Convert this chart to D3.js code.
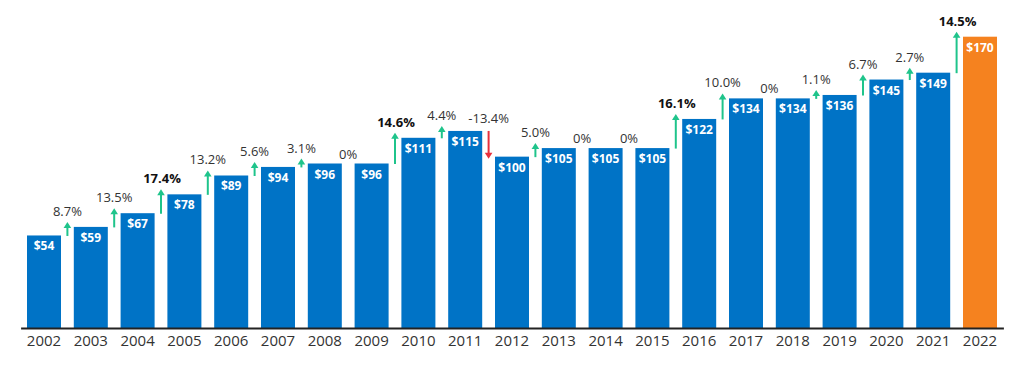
<!DOCTYPE html>
<html>
<head>
<meta charset="utf-8">
<script src="https://cdn.jsdelivr.net/npm/d3@7"></script>
<style>
  html, body { margin: 0; padding: 0; background: #fff; }
  svg { display: block; font-family: "Open Sans", sans-serif; }
</style>
</head>
<body>
<svg id="chart" width="1024" height="367"></svg>
<script>
const years = ["2002","2003","2004","2005","2006","2007","2008","2009","2010","2011","2012","2013","2014","2015","2016","2017","2018","2019","2020","2021","2022"];
const values = [54,59,67,78,89,94,96,96,111,115,100,105,105,105,122,134,134,136,145,149,170];
const changes = [null,8.7,13.5,17.4,13.2,5.6,3.1,0,14.6,4.4,-13.4,5.0,0,0,16.1,10.0,0,1.1,6.7,2.7,14.5];
const changeLabels = ["","8.7%","13.5%","17.4%","13.2%","5.6%","3.1%","0%","14.6%","4.4%","-13.4%","5.0%","0%","0%","16.1%","10.0%","0%","1.1%","6.7%","2.7%","14.5%"];
const highlightYear = "2022";

const svg = d3.select("#chart");
const pad = 0.2735;
const x = d3.scaleBand().domain(years).range([20.6, 1003.4]).paddingInner(pad).paddingOuter(pad / 2);
const y = d3.scaleLinear().domain([0, 170]).range([328, 36.7]);
const gapHalf = x.step() * pad / 2;

const blue = "#0073c6", orange = "#f5821f", green = "#1fc48b", red = "#e8313c";

// bars
svg.append("g").selectAll("rect").data(years).join("rect")
  .attr("x", d => x(d))
  .attr("width", x.bandwidth())
  .attr("y", (d, i) => y(values[i]))
  .attr("height", (d, i) => y(0) - y(values[i]))
  .attr("fill", d => d === highlightYear ? orange : blue);

// value labels
svg.append("g").selectAll("text").data(years).join("text")
  .attr("x", d => x(d) + x.bandwidth() / 2)
  .attr("y", (d, i) => y(values[i]) + 15)
  .attr("text-anchor", "middle")
  .attr("fill", "#fff")
  .attr("font-weight", 700)
  .attr("font-size", 12)
  .text((d, i) => "$" + values[i]);

// axis
const axis = svg.append("g")
  .attr("transform", `translate(0,${y(0)})`)
  .call(d3.axisBottom(x).tickSize(0).tickPadding(6));
axis.select(".domain").attr("stroke", "#222").attr("stroke-width", 1.8);
axis.selectAll("text")
  .attr("font-family", "Open Sans, sans-serif")
  .attr("font-size", 15)
  .attr("fill", "#333")
  .attr("dy", "0")
  .attr("y", 17.5);

// change arrows and labels
const g = svg.append("g");
years.forEach((yr, i) => {
  if (i === 0) return;
  const c = changes[i];
  const ax = x(yr) - gapHalf;
  const prev = y(values[i - 1]);
  const cur = y(values[i]);
  let labelY;
  const bold = Math.abs(c) >= 14;
  if (c > 0) {
    let tip = cur - 5;
    let bottom = prev + 0.5;
    if (bottom - tip < 8) tip = bottom - 8;
    g.append("line").attr("x1", ax).attr("x2", ax).attr("y1", bottom).attr("y2", tip + 5)
      .attr("stroke", green).attr("stroke-width", 2);
    g.append("path").attr("d", `M${ax - 3.8},${tip + 6} L${ax},${tip} L${ax + 3.8},${tip + 6} Z`)
      .attr("fill", green);
    labelY = tip - 6;
  } else if (c < 0) {
    const top = prev;
    const tip = cur + 2;
    g.append("line").attr("x1", ax).attr("x2", ax).attr("y1", top).attr("y2", tip - 5)
      .attr("stroke", red).attr("stroke-width", 2);
    g.append("path").attr("d", `M${ax - 3.8},${tip - 6} L${ax},${tip} L${ax + 3.8},${tip - 6} Z`)
      .attr("fill", red);
    labelY = prev - 7.5;
  } else {
    labelY = cur - 5;
  }
  g.append("text")
    .attr("x", ax + (bold ? 1 : 0))
    .attr("y", labelY)
    .attr("text-anchor", "middle")
    .attr("font-size", 13)
    .attr("font-weight", bold ? 700 : 400)
    .attr("fill", bold ? "#111" : "#333")
    .text(changeLabels[i]);
});
</script>
</body>
</html>
